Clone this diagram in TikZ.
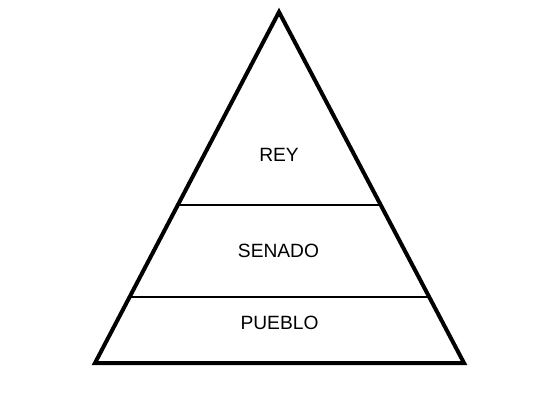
\documentclass[tikz,border=0pt]{standalone}
\usepackage{fontspec}
\setmainfont{Liberation Sans}
\usetikzlibrary{calc}
\begin{document}
\begin{tikzpicture}[x=0.75pt,y=-0.75pt,
  outline/.style={line width=3pt,line join=miter},
  divider/.style={line width=1.5pt},
  label/.style={anchor=base,inner sep=0pt,font=\fontsize{14.4pt}{17pt}\selectfont}]
\useasboundingbox (0,0) rectangle (540,401);
\coordinate (apex) at (279,12);
\coordinate (bl) at (95,363);
\coordinate (br) at (464,363);
\draw[outline] (apex) -- (bl) -- (br) -- cycle;
\coordinate (l1) at ($(apex)!{193/351}!(bl)$);
\coordinate (r1) at ($(apex)!{193/351}!(br)$);
\coordinate (l2) at ($(apex)!{285/351}!(bl)$);
\coordinate (r2) at ($(apex)!{285/351}!(br)$);
\draw[divider] (l1) -- (r1);
\draw[divider] (l2) -- (r2);
\node[label] (rey) at (279,161) {REY};
\node[label] (senado) at (278.5,257.5) {SENADO};
\node[label] (pueblo) at (279.5,329) {PUEBLO};
\end{tikzpicture}
\end{document}
